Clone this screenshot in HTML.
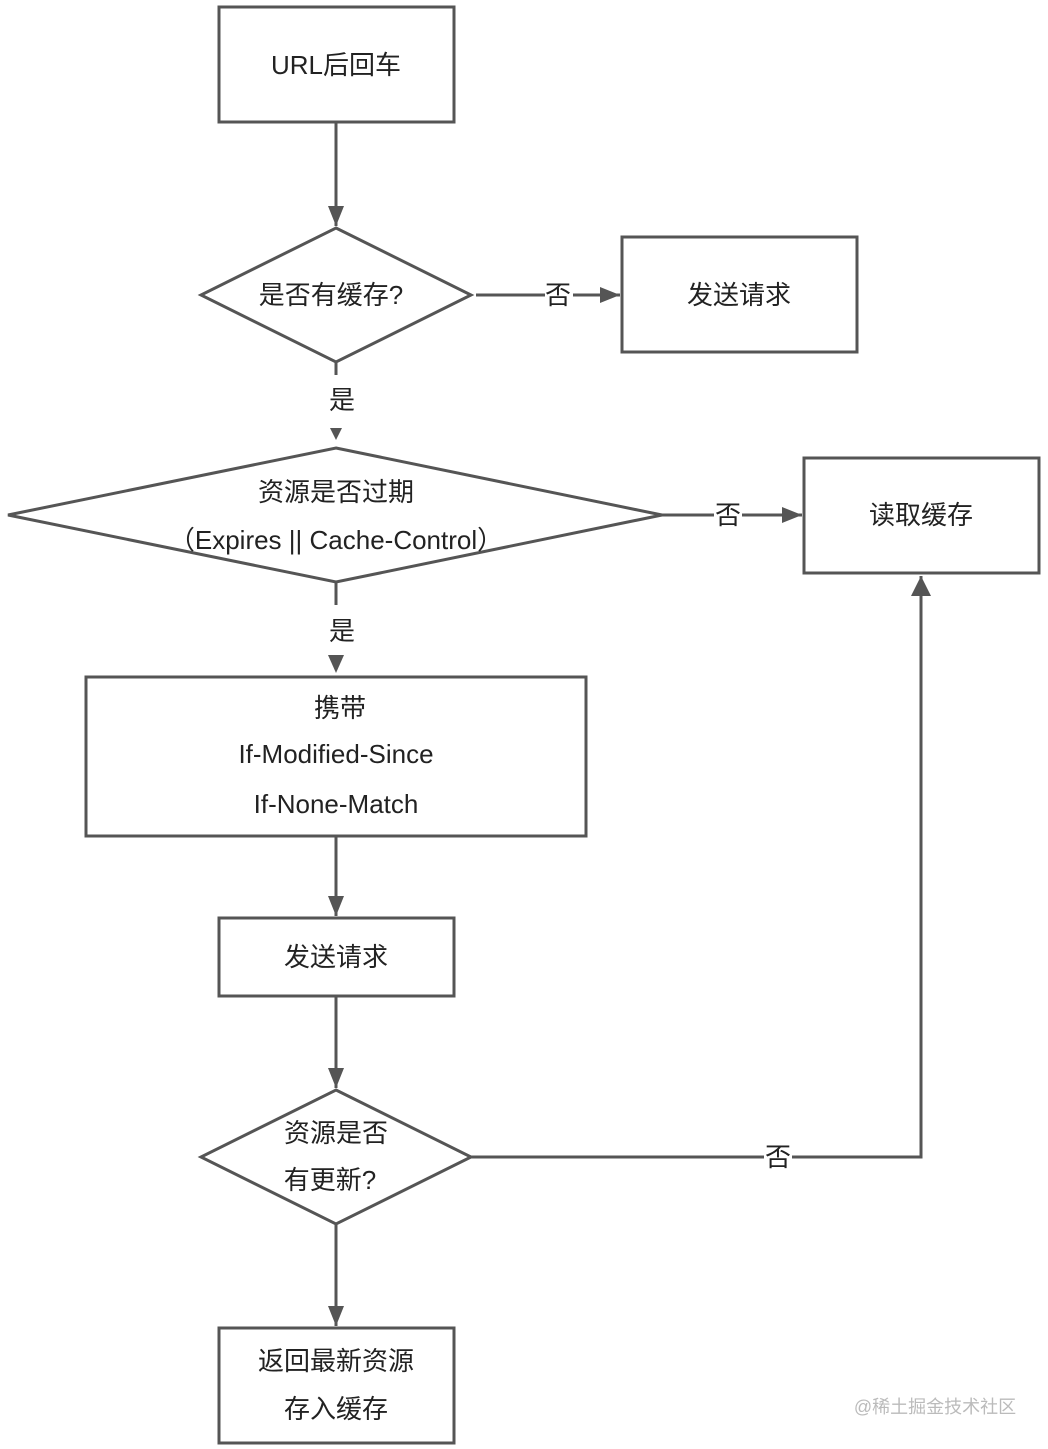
<!DOCTYPE html>
<html><head><meta charset="utf-8"><style>
body{margin:0;background:#fff;}
svg{display:block;}
text{font-family:"Liberation Sans","Noto Sans CJK SC",sans-serif;fill:#222;font-size:26px;text-anchor:middle;dominant-baseline:central;}
</style></head><body>
<svg width="1048" height="1449" viewBox="0 0 1048 1449">
<defs>
<marker id="b" markerWidth="20" markerHeight="16" refX="20" refY="8" orient="auto" markerUnits="userSpaceOnUse"><path d="M0,0 L20,8 L0,16z" fill="#555"/></marker></defs>
<g fill="none" stroke="#555" stroke-width="3">
<rect x="219" y="7" width="235" height="115"/>
<polygon points="336,228 471,295 336,362 201,295"/>
<rect x="622" y="237" width="235" height="115"/>
<polygon points="336,448 662,515 336,582 8,515"/>
<rect x="804" y="458" width="235" height="115"/>
<rect x="86" y="677" width="500" height="159"/>
<rect x="219" y="918" width="235" height="78"/>
<polygon points="336,1090 471,1157 336,1224 201,1157"/>
<rect x="219" y="1328" width="235" height="115"/>
<line x1="336" y1="122" x2="336" y2="226" marker-end="url(#b)"/>
<line x1="476" y1="295" x2="620" y2="295" marker-end="url(#b)"/>
<line x1="336" y1="362" x2="336" y2="375"/>
<line x1="662" y1="515" x2="802" y2="515" marker-end="url(#b)"/>
<line x1="336" y1="582" x2="336" y2="605"/>
<line x1="336" y1="836" x2="336" y2="916" marker-end="url(#b)"/>
<line x1="336" y1="996" x2="336" y2="1088" marker-end="url(#b)"/>
<polyline points="471,1157 921,1157 921,576"/>
<line x1="336" y1="1224" x2="336" y2="1326" marker-end="url(#b)"/>
</g>
<path d="M330,428 L342,428 L336,440z" fill="#555"/>
<path d="M328,655 L344,655 L336,673z" fill="#555"/>
<path d="M911,596 L931,596 L921,576z" fill="#555"/>
<rect x="545" y="283" width="28" height="26" fill="#fff"/>
<rect x="714" y="503" width="28" height="26" fill="#fff"/>
<rect x="764" y="1145" width="28" height="26" fill="#fff"/>
<text x="336" y="65">URL后回车</text>
<text x="331" y="295">是否有缓存?</text>
<text x="558" y="295">否</text>
<text x="739" y="295">发送请求</text>
<text x="342" y="400">是</text>
<text x="336" y="492">资源是否过期</text>
<text x="336" y="540">（Expires || Cache-Control）</text>
<text x="728" y="515">否</text>
<text x="921" y="515">读取缓存</text>
<text x="342" y="631">是</text>
<text x="340" y="708">携带</text>
<text x="336" y="754">If-Modified-Since</text>
<text x="336" y="804">If-None-Match</text>
<text x="336" y="957">发送请求</text>
<text x="336" y="1133">资源是否</text>
<text x="330" y="1180">有更新?</text>
<text x="778" y="1157">否</text>
<text x="336" y="1361">返回最新资源</text>
<text x="336" y="1409">存入缓存</text>
<text x="935" y="1407" style="font-size:18px;fill:#bbb">@稀土掘金技术社区</text>
</svg>
</body></html>
